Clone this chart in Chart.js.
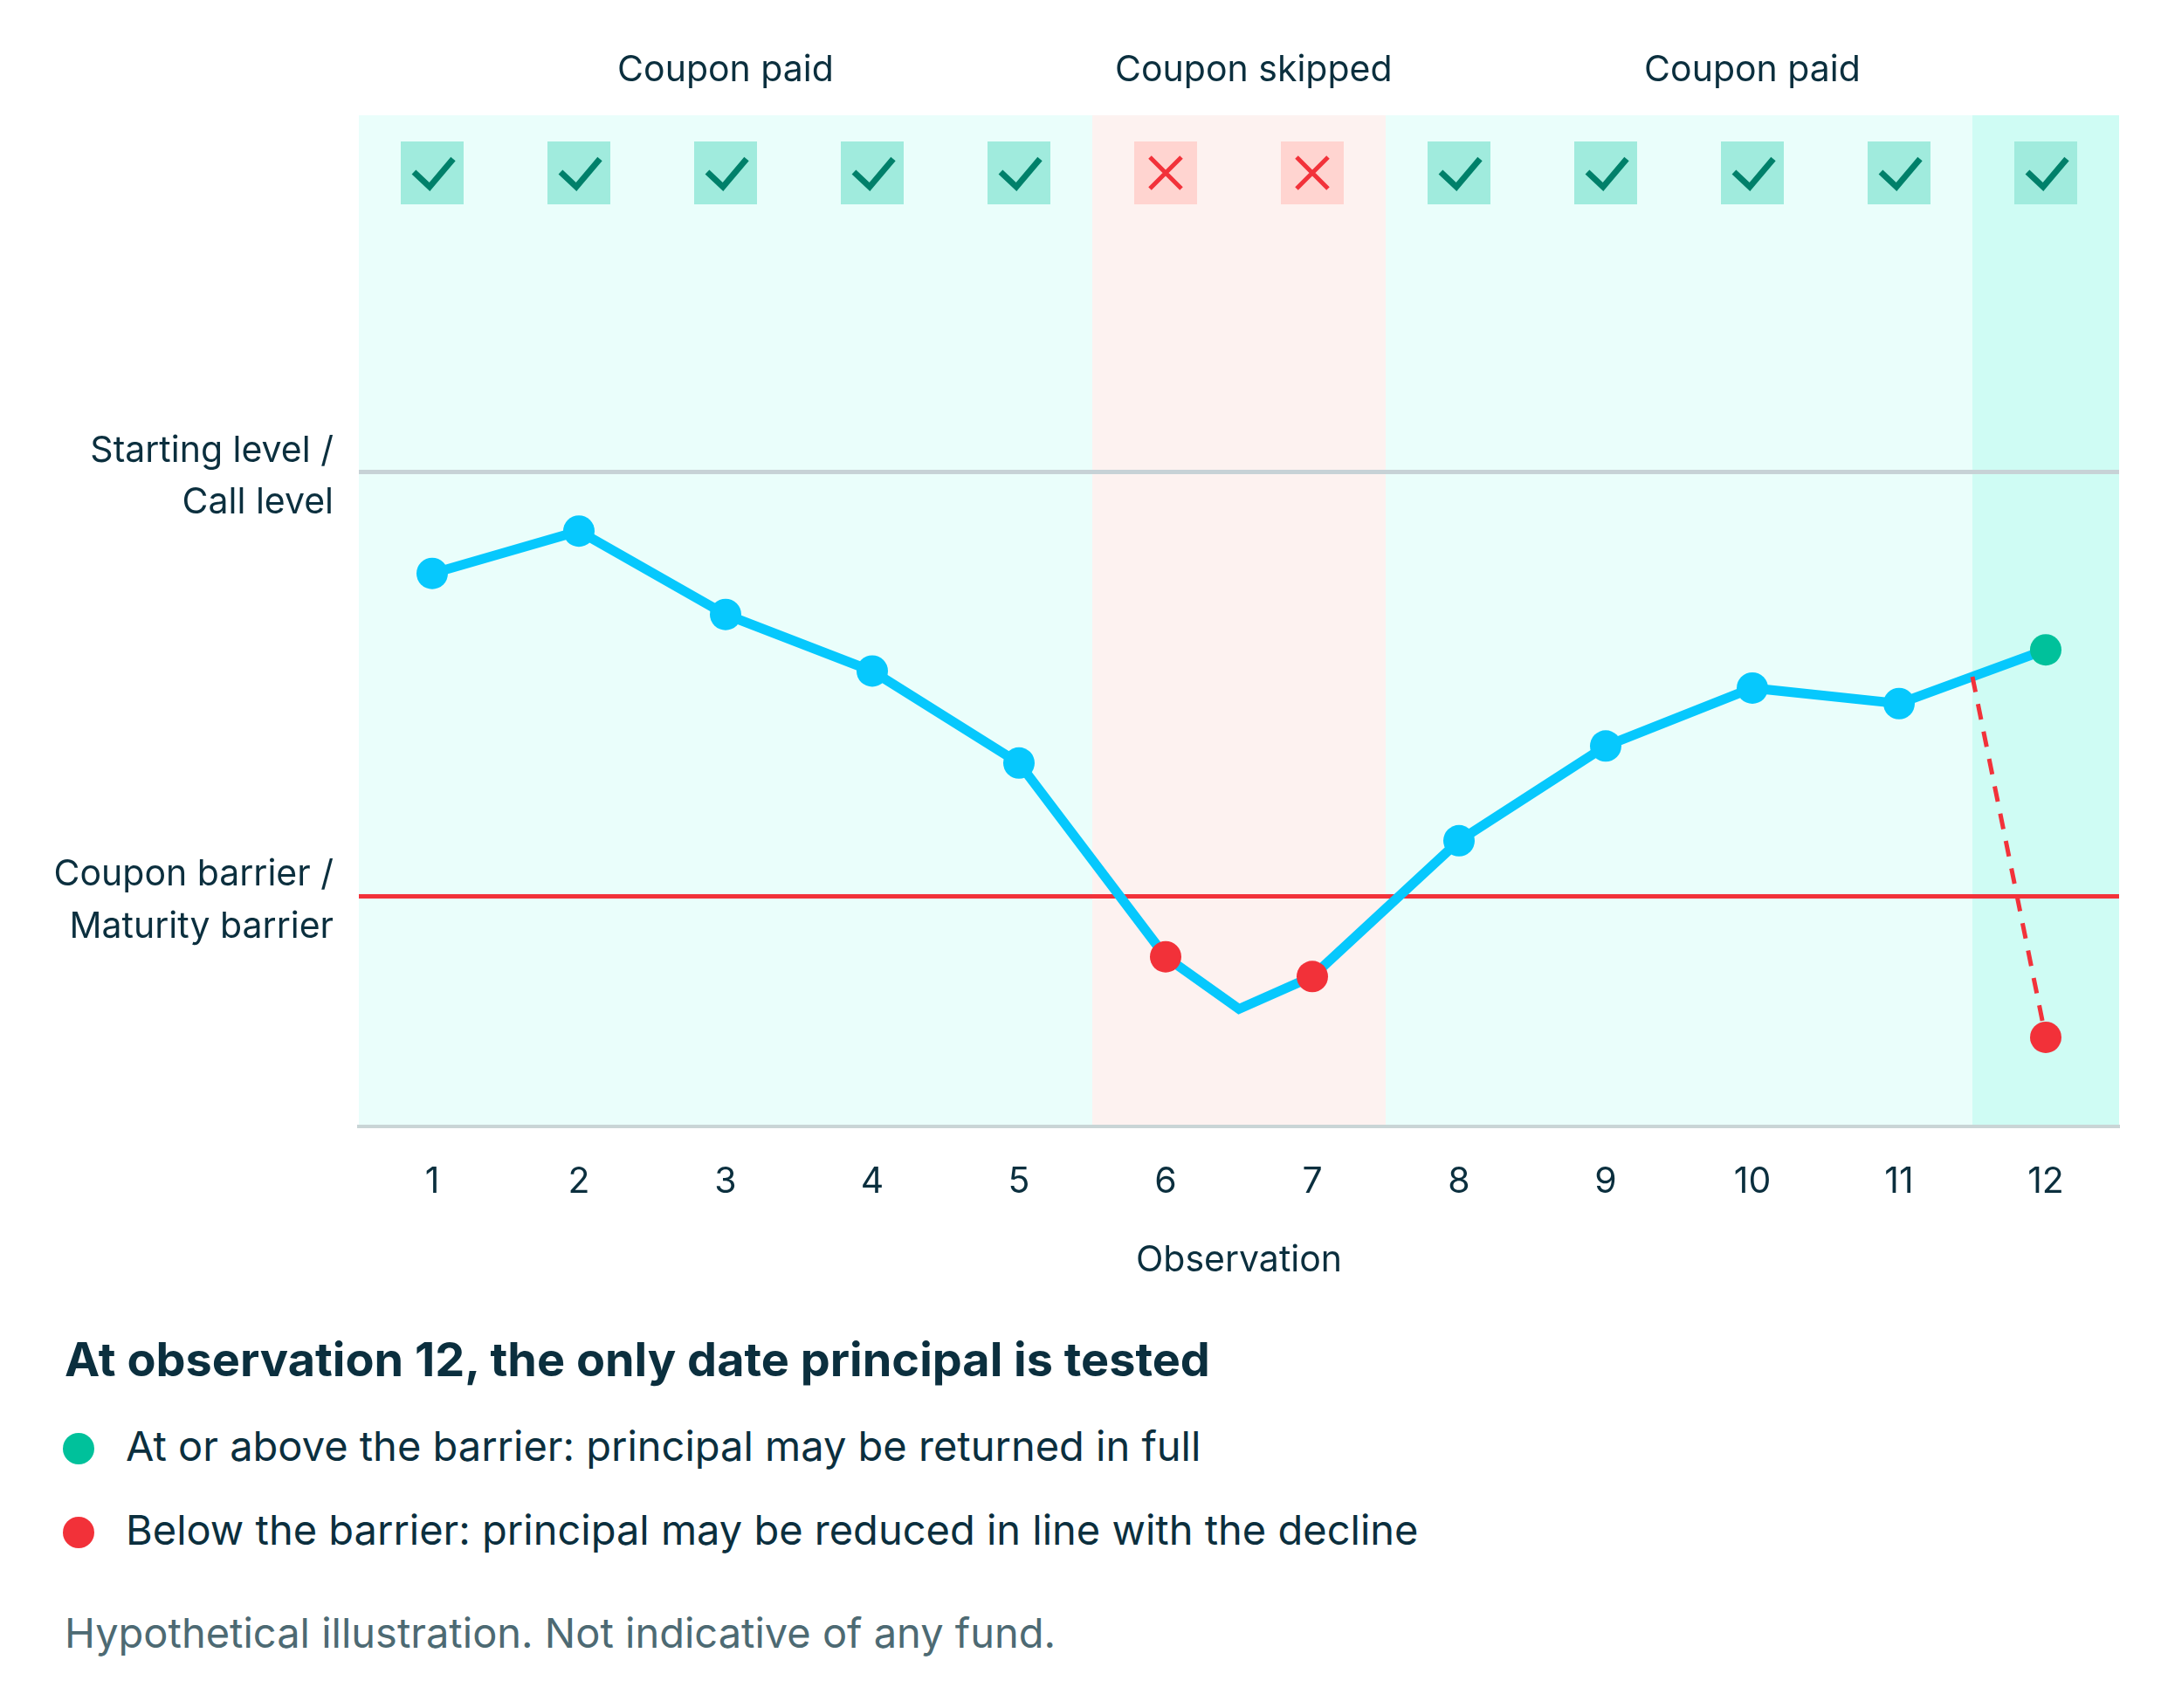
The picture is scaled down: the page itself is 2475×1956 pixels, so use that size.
<!DOCTYPE html>
<html lang="en">
<head>
  <meta charset="UTF-8">
  <title>Coupon observations</title>
  <script src="https://cdn.jsdelivr.net/npm/chart.js@4"></script>
  <style>
    body { margin: 0; background: #fff; font-family: Inter, sans-serif; color: #0b2f3e; }
    #wrap { position: relative; width: 2475px; height: 1956px; }
    #chartBox { position: absolute; left: 0; top: 0; width: 2475px; height: 1490px; }
    .note { position: absolute; left: 74px; margin: 0; white-space: nowrap; }
    h2.note { top: 1527px; font-size: 54px; line-height: 60px; font-weight: 700; }
    .item { font-size: 47px; line-height: 60px; }
    .item .dot { display: inline-block; width: 36px; height: 36px; border-radius: 50%; margin: 0 36px 0 -2px; vertical-align: -4px; }
    .foot { top: 1840px; font-size: 47px; line-height: 60px; color: #4d6a73; }
  </style>
</head>
<body>
  <div id="wrap">
    <div id="chartBox"><canvas id="couponChart"></canvas></div>
    <h2 class="note">At observation 12, the only date principal is tested</h2>
    <p class="note item" style="top:1626px"><span class="dot" style="background:#00c19b"></span>At or above the barrier: principal may be returned in full</p>
    <p class="note item" style="top:1722px"><span class="dot" style="background:#f23139"></span>Below the barrier: principal may be reduced in line with the decline</p>
    <p class="note foot">Hypothetical illustration. Not indicative of any fund.</p>
  </div>

  <script>
    // observation dates and the path of the underlying (starting level = 100)
    const observations = [1, 2, 3, 4, 5, 6, 7, 8, 9, 10, 11, 12];
    const pathX = [1, 2, 3, 4, 5, 6, 6.5, 7, 8, 9, 10, 11, 12];
    const pathLevel = [92.8, 95.8, 89.9, 85.9, 79.4, 65.7, 62.0, 64.3, 73.9, 80.6, 84.7, 83.6, 87.4];
    const pointKind = ['above', 'above', 'above', 'above', 'above', 'below', 'none', 'below',
                       'above', 'above', 'above', 'above', 'final'];

    // alternative ending at maturity
    const dropX = [11.5, 12];
    const dropLevel = [85.5, 60.0];

    const couponStatus = ['paid', 'paid', 'paid', 'paid', 'paid', 'skipped', 'skipped',
                          'paid', 'paid', 'paid', 'paid', 'paid'];
    const groupLabels = ['Coupon paid', 'Coupon skipped', 'Coupon paid'];
    const groupCenters = [3, 6.6, 10];

    const bandFrom = [0.5, 5.5, 7.5, 11.5];
    const bandTo = [5.5, 7.5, 11.5, 12.5];
    const bandKind = ['paid', 'skipped', 'paid', 'maturity'];

    const levelTicks = [70, 100];
    const levelLabels = [['Coupon barrier /', 'Maturity barrier'], ['Starting level /', 'Call level']];

    const TEXT = '#0b2f3e';
    const pointColors = { above: '#06c8fd', below: '#f23139', final: '#00c19b', none: 'rgba(0,0,0,0)' };
    const bandColors = { paid: '#eafefb', skipped: '#fdf2f0', maturity: '#cffcf4' };

    Chart.defaults.font.family = 'Inter, sans-serif';
    Chart.defaults.color = TEXT;

    const backdrop = {
      id: 'backdrop',
      beforeDraw(chart) {
        const { ctx, chartArea: a, scales: { x } } = chart;
        ctx.save();
        bandFrom.forEach((from, i) => {
          const l = x.getPixelForValue(from);
          const r = x.getPixelForValue(bandTo[i]);
          ctx.fillStyle = bandColors[bandKind[i]];
          ctx.fillRect(l, a.top, r - l, a.bottom - a.top);
        });

        // coupon status boxes
        const size = 72, cy = a.top + 66;
        couponStatus.forEach((s, i) => {
          const cx = x.getPixelForValue(observations[i]);
          ctx.fillStyle = s === 'paid' ? '#a0ebdd' : '#ffd4d0';
          ctx.fillRect(cx - size / 2, cy - size / 2, size, size);
          ctx.beginPath();
          if (s === 'paid') {
            ctx.strokeStyle = '#00806a';
            ctx.lineWidth = 7;
            ctx.moveTo(cx - 21, cy - 1);
            ctx.lineTo(cx - 3, cy + 16);
            ctx.lineTo(cx + 24, cy - 16);
          } else {
            ctx.strokeStyle = '#f2323a';
            ctx.lineWidth = 5;
            ctx.moveTo(cx - 18, cy - 18);
            ctx.lineTo(cx + 18, cy + 18);
            ctx.moveTo(cx + 18, cy - 18);
            ctx.lineTo(cx - 18, cy + 18);
          }
          ctx.stroke();
        });

        // group headings above the plot
        ctx.fillStyle = TEXT;
        ctx.font = '41px Inter, sans-serif';
        ctx.textAlign = 'center';
        ctx.textBaseline = 'middle';
        groupLabels.forEach((t, i) => {
          ctx.fillText(t, x.getPixelForValue(groupCenters[i]), a.top - 51);
        });
        ctx.restore();
      }
    };

    new Chart(document.getElementById('couponChart'), {
      type: 'line',
      data: {
        datasets: [
          {
            data: dropX.map((v, i) => ({ x: v, y: dropLevel[i] })),
            borderColor: '#f2323a',
            borderWidth: 5,
            borderDash: [18, 14],
            pointRadius: [0, 18],
            pointBorderWidth: 0,
            pointBackgroundColor: '#f23139',
            order: 0
          },
          {
            data: pathX.map((v, i) => ({ x: v, y: pathLevel[i] })),
            borderColor: '#06c8fd',
            borderWidth: 11,
            tension: 0,
            pointRadius: pointKind.map(k => k === 'none' ? 0 : 18),
            pointBorderWidth: 0,
            pointBackgroundColor: pointKind.map(k => pointColors[k]),
            order: 1
          }
        ]
      },
      options: {
        responsive: true,
        maintainAspectRatio: false,
        animation: false,
        events: [],
        layout: { padding: { top: 132, right: 48, left: 0, bottom: 0 } },
        plugins: { legend: { display: false }, tooltip: { enabled: false } },
        scales: {
          x: {
            type: 'linear',
            min: 0.5,
            max: 12.5,
            afterBuildTicks: s => { s.ticks = observations.map(v => ({ value: v })); },
            afterFit: s => { s.height = 200; },
            grid: { display: false, drawTicks: false },
            border: { display: true, color: '#c9d5d6', width: 4 },
            ticks: { padding: 39, font: { size: 41 }, color: TEXT },
            title: { display: true, text: 'Observation', font: { size: 41 }, color: TEXT, padding: { top: 0, bottom: 22 } }
          },
          y: {
            min: 53.7,
            max: 125.2,
            afterBuildTicks: s => { s.ticks = levelTicks.map(v => ({ value: v })); },
            afterFit: s => { s.width = 411; },
            grid: {
              drawTicks: false,
              lineWidth: 5,
              color: c => c.tick && c.tick.value === 100 ? '#c7d2d6' : '#f2323a'
            },
            border: { display: false },
            ticks: {
              padding: 29,
              labelOffset: 6,
              font: { size: 41, lineHeight: 1.46 },
              color: TEXT,
              callback: v => levelLabels[levelTicks.indexOf(v)]
            }
          }
        }
      },
      plugins: [backdrop]
    });
  </script>
</body>
</html>
